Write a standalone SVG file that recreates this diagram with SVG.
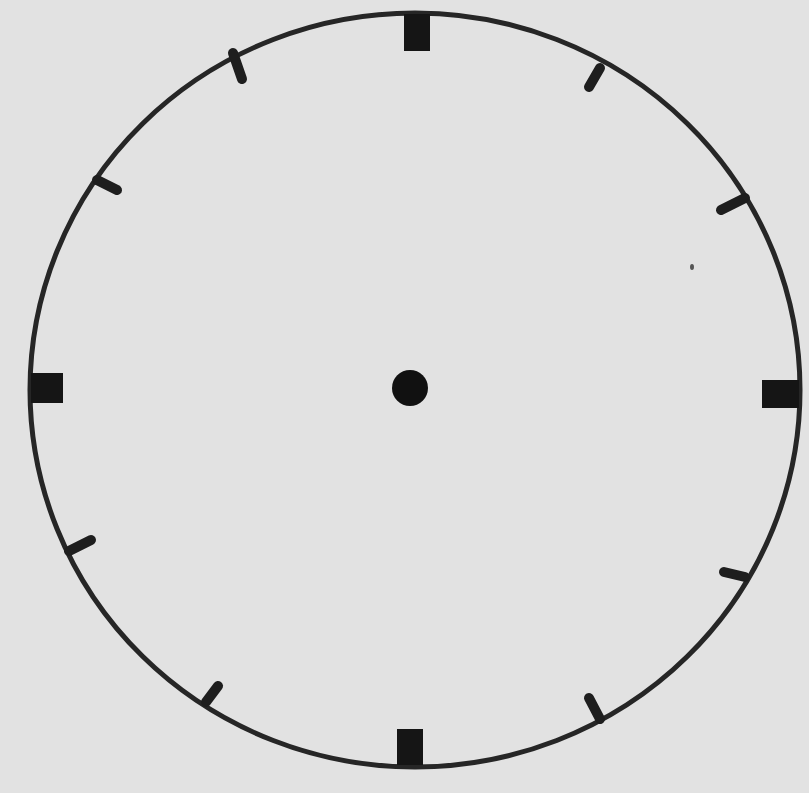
<svg xmlns="http://www.w3.org/2000/svg" width="809" height="793" viewBox="0 0 809 793">
<style>
.rim{fill:none;stroke:#262626;stroke-width:5}
.tick{stroke:#1e1e1e;stroke-width:10;stroke-linecap:round}
.mark{fill:#151515}
</style>
<rect width="809" height="793" fill="#e2e2e2"/>
<g id="face">
<ellipse class="rim" cx="415" cy="390" rx="385" ry="377"/>
</g>
<g id="hour-marks">
<rect class="mark" x="404" y="14" width="26" height="37"/>
<rect class="mark" x="31" y="373" width="32" height="30"/>
<rect class="mark" x="762" y="380" width="37" height="28"/>
<rect class="mark" x="397" y="729" width="26" height="36"/>
</g>
<g id="minor-ticks">
<line class="tick" x1="600" y1="68" x2="589" y2="87"/>
<line class="tick" x1="745" y1="198" x2="721" y2="210"/>
<line class="tick" x1="745" y1="577" x2="724" y2="572"/>
<line class="tick" x1="600" y1="719" x2="589" y2="698"/>
<line class="tick" x1="206" y1="702" x2="218" y2="686"/>
<line class="tick" x1="69" y1="551" x2="91" y2="540"/>
<line class="tick" x1="97" y1="180" x2="117" y2="190"/>
<line class="tick" x1="233" y1="53" x2="242" y2="79"/>
</g>
<g id="center">
<circle cx="410" cy="388" r="18" fill="#111"/>
</g>
<ellipse cx="692" cy="267" rx="2" ry="3" fill="#555"/>
</svg>
